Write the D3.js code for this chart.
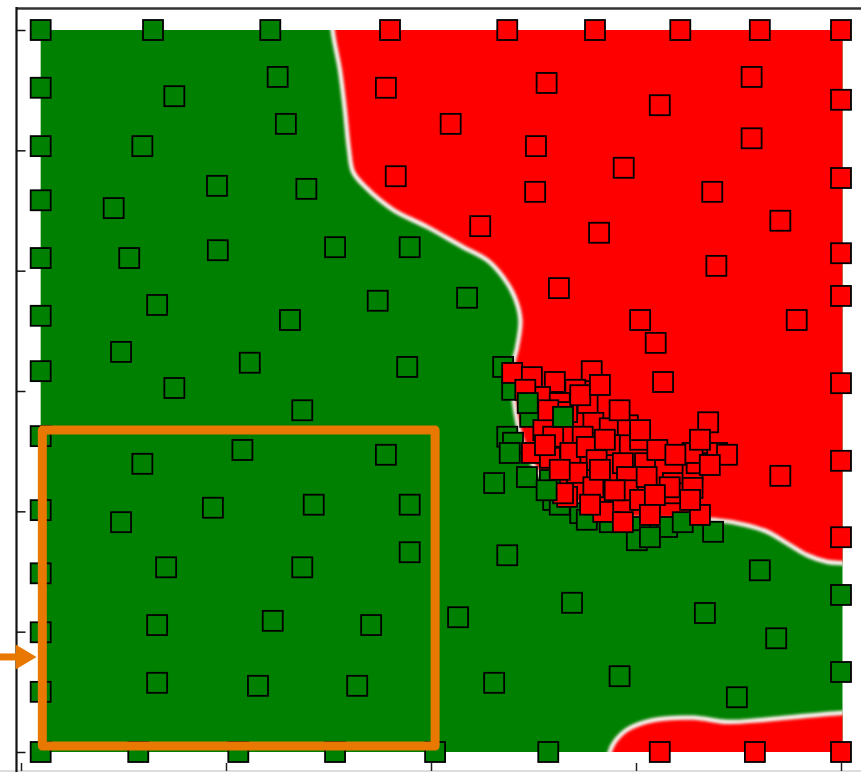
<!DOCTYPE html>
<html><head><meta charset="utf-8">
<script src="https://cdn.jsdelivr.net/npm/d3@7"></script>
<style>html,body{margin:0;padding:0;background:#fff;} svg{display:block;}</style>
</head><body>
<script>
// ---- data ----
const xTicks = [0, 25, 50, 75, 100];
const yTicks = [0, 20, 40, 60, 80, 100, 120];

const greenPoints = [
  [2.4,120],[2.4,110.4],[2.4,100.7],[2.4,91.7],[2.4,82.1],[2.4,72.5],[2.4,63.3],[2.4,52.5],[2.4,40.2],[2.4,29.7],[2.4,19.9],[2.4,10.0],[2.4,0],
  [16.1,120],[30.4,120],
  [14.3,0],[26.5,0],[38.3,0],[50.5,0],[64.3,0],
  [100,26.1],[100,13.3],
  [18.7,109.0],[31.3,112.2],[32.3,104.4],[14.8,100.7],[23.9,94.1],[34.8,93.6],[11.3,90.4],[13.2,82.1],[24.0,83.4],[38.3,83.9],[47.4,83.9],
  [16.6,74.3],[32.8,71.8],[43.5,75.0],[54.4,75.5],[12.2,66.5],[27.9,64.7],[18.7,60.5],[47.1,64.0],[34.3,56.8],[14.8,47.9],[27.0,50.2],
  [44.5,49.4],[12.2,38.2],[23.4,40.6],[35.7,41.1],[47.4,41.1],[17.7,30.7],[34.3,30.7],[47.4,33.2],[16.6,21.1],[30.7,21.8],[42.7,21.1],
  [16.6,11.5],[28.9,11.0],[41.0,11.0],[53.3,22.4],[57.7,11.5],[59.3,32.7],[67.2,24.8],[73.0,12.6],[83.4,23.1],[90.1,30.2],[92.1,18.9],[87.3,9.1],
  [58.8,64.0],[59.9,60.2],[62.1,55.7],[59.3,52.4],[60.0,51.4],[57.7,44.7],[61.7,45.7],[64.5,45.2],[64.9,41.9],[68.2,39.7],[69.0,38.6],
  [75.5,37.4],[78.8,37.4],[80.7,38.2],[84.4,36.6],[75.1,35.2],[76.7,35.7],[71.8,38.2],[65.7,41.1]
];

const redPoints = [
  [45.0,120],[59.3,120],[70.0,120],[80.4,120],[90.1,120],[100,120],
  [100,108.4],[100,95.4],[100,82.9],[100,75.8],[100,61.3],[100,48.4],[100,35.7],
  [77.9,0],[89.5,0],[100,0],
  [44.5,110.4],[64.1,111.2],[77.9,107.5],[89.1,112.2],[52.4,104.4],[62.8,100.7],[73.5,97.1],[89.1,102.0],[45.7,95.7],[62.7,93.1],
  [84.3,93.1],[56.0,87.4],[70.5,86.3],[92.6,88.3],[84.8,80.8],[65.6,77.1],[75.5,71.8],[94.6,71.8],[77.4,68.0],[69.6,63.3],[78.3,61.5],
  [83.8,54.8],[92.6,45.9],
  [59.9,63.0],[62.3,62.3],[65.1,61.5],[67.6,60.2],[63.3,59.0],[65.7,58.0],[68.5,58.5],[66.6,56.5],[69.1,58.0],[69.8,54.7],[71.8,53.8],
  [74.0,54.3],[63.7,53.5],[64.9,52.4],[68.5,52.4],[71.8,51.0],[75.5,51.9],[62.3,49.7],[64.5,48.9],[67.0,49.7],[69.0,50.7],[70.2,48.5],
  [73.4,48.0],[76.1,48.0],[77.6,50.2],[67.8,46.4],[69.8,44.0],[73.9,45.7],[74.0,43.5],[76.3,45.7],[79.5,44.7],[81.9,46.9],[82.4,48.0],
  [81.9,49.7],[84.9,49.7],[86.1,49.4],[66.6,42.4],[71.0,39.9],[73.4,38.2],[82.8,39.4],[79.5,43.0],[66.1,43.0],[79.1,44.0],[81.9,43.9],
  [70.6,46.9],[72.4,43.5],[75.5,41.9],[77.3,42.7],[81.6,41.9],[84.0,47.7],[71.2,51.9],[73.0,56.8],[75.5,53.5],[65.7,46.9],
  [63.9,51.0],[69.4,41.1],[76.7,39.4],[68.2,59.3],[70.6,61.0],[61.5,60.2],[64.3,56.8],[82.8,51.9],[79.8,49.4]
];

const greenOnTop = [[61.8,58.0],[66.1,55.7],[59.6,49.7],[64.1,43.5]];

// decision boundaries (class 1 region lies to the right / below)
const upperBoundary = [
  [37.9,126],[38.0,120],[38.9,113.3],[39.5,106.7],[40.0,100.1],[40.5,96.4],[42.0,93.9],[45.4,90.1],[49.5,87.3],[53.8,84.0],
  [57.0,81.6],[58.8,78.9],[60.2,75.6],[60.9,71.8],[60.5,67.3],[60.0,64.3],[60.1,58.5],[61.1,51.9],[63.3,46.0],[67.0,41.9],
  [71.8,39.4],[77.9,38.6],[84.4,38.6],[88.5,37.7],[91.0,36.6],[93.4,34.7],[95.9,32.7],[98.3,31.6],[100.1,31.4],[104,31.2]
];
const lowerBoundary = [
  [71.6,-2],[71.8,0],[72.4,1.7],[73.9,3.7],[77.1,5.3],[82.0,5.7],[86.1,5.0],[90.1,5.3],[94.1,5.8],[100.1,6.5],[104,6.7]
];

const highlightBox = [[2.6,1.0],[50.5,53.5]];
const arrowTip = [1.9,15.8];

// ---- drawing ----
const W = 861, H = 772;
const x = d3.scaleLinear().domain([0,100]).range([21,841]);
const y = d3.scaleLinear().domain([0,120]).range([752,30]);
const GREEN = "#008000", RED = "#ff0000", ORANGE = "#e87800";

const svg = d3.select("body").append("svg").attr("width",W).attr("height",H);
const defs = svg.append("defs");
defs.append("filter").attr("id","soft").attr("x","-5%").attr("y","-5%").attr("width","110%").attr("height","110%")
  .append("feGaussianBlur").attr("stdDeviation",1.4);
defs.append("filter").attr("id","softer").attr("x","-5%").attr("y","-5%").attr("width","110%").attr("height","110%")
  .append("feGaussianBlur").attr("stdDeviation",1.5);

const allPts = greenPoints.concat(redPoints);
const xMin = d3.min(allPts,d=>d[0]), xMax = d3.max(allPts,d=>d[0]);
const yMin = d3.min(allPts,d=>d[1]), yMax = d3.max(allPts,d=>d[1]);

defs.append("clipPath").attr("id","plotclip").append("rect")
  .attr("x",x(xMin)).attr("y",y(yMax)).attr("width",x(xMax)-x(xMin)+1.5).attr("height",y(yMin)-y(yMax));

const field = svg.append("g").attr("clip-path","url(#plotclip)");
field.append("rect").attr("x",x(xMin)-5).attr("y",y(yMax)-5)
  .attr("width",x(xMax)-x(xMin)+10).attr("height",y(yMin)-y(yMax)+10).attr("fill",GREEN);

const curve = d3.line().x(d=>x(d[0])).y(d=>y(d[1])).curve(d3.curveCatmullRom.alpha(0.5));
const upperPath = curve(upperBoundary);
const lowerPath = curve(lowerBoundary);

field.append("path")
  .attr("d", upperPath + `L${x(106)},${y(31.2)}L${x(106)},${y(127)}L${x(37.9)},${y(127)}Z`)
  .attr("fill",RED).attr("filter","url(#soft)");
field.append("path")
  .attr("d", lowerPath + `L${x(106)},${y(6.7)}L${x(106)},${y(-3)}L${x(71.6)},${y(-3)}Z`)
  .attr("fill",RED).attr("filter","url(#soft)");
[upperPath, lowerPath].forEach(p=>{
  field.append("path").attr("d",p).attr("fill","none").attr("stroke","#fff")
    .attr("stroke-width",4.2).attr("filter","url(#softer)");
});

// points
const S = 20;
function drawSquares(data, color){
  svg.append("g").selectAll("rect").data(data).join("rect")
    .attr("x",d=>x(d[0])-S/2).attr("y",d=>y(d[1])-S/2)
    .attr("width",S).attr("height",S)
    .attr("fill",color).attr("stroke","#000").attr("stroke-width",1.8);
}
drawSquares(greenPoints, GREEN);
drawSquares(redPoints, RED);
drawSquares(greenOnTop, GREEN);

// axes frame
svg.append("line").attr("x1",16).attr("x2",W).attr("y1",8.5).attr("y2",8.5)
  .attr("stroke","#333").attr("stroke-width",2.6);
svg.append("line").attr("x1",0).attr("x2",W).attr("y1",771).attr("y2",771)
  .attr("stroke","#bbb").attr("stroke-width",1);
svg.append("line").attr("x1",16.5).attr("x2",16.5).attr("y1",7).attr("y2",H)
  .attr("stroke","#111").attr("stroke-width",2.2);

const yAxis = svg.append("g").attr("transform","translate(16.5,0)")
  .call(d3.axisRight(y).tickValues(yTicks).tickSize(9).tickSizeOuter(0).tickFormat(""));
yAxis.select(".domain").remove();
yAxis.selectAll("line").attr("stroke","#111").attr("stroke-width",1.5);

const xAxis = svg.append("g").attr("transform","translate(0,771)")
  .call(d3.axisTop(x).tickValues(xTicks).tickSize(8).tickSizeOuter(0).tickFormat(""));
xAxis.select(".domain").remove();
xAxis.selectAll("line").attr("stroke","#222").attr("stroke-width",1.5);

// highlight annotation
svg.append("rect")
  .attr("x",x(highlightBox[0][0])).attr("y",y(highlightBox[1][1]))
  .attr("width",x(highlightBox[1][0])-x(highlightBox[0][0]))
  .attr("height",y(highlightBox[0][1])-y(highlightBox[1][1]))
  .attr("fill","none").attr("stroke",ORANGE).attr("stroke-width",9).attr("stroke-linejoin","round");

const ax = x(arrowTip[0]), ay = y(arrowTip[1]);
svg.append("line").attr("x1",0).attr("x2",ax-18).attr("y1",ay).attr("y2",ay)
  .attr("stroke",ORANGE).attr("stroke-width",7);
svg.append("path")
  .attr("d",`M${ax},${ay}L${ax-21},${ay-12.5}L${ax-21},${ay+12.5}Z`)
  .attr("fill",ORANGE);
</script>
</body></html>
